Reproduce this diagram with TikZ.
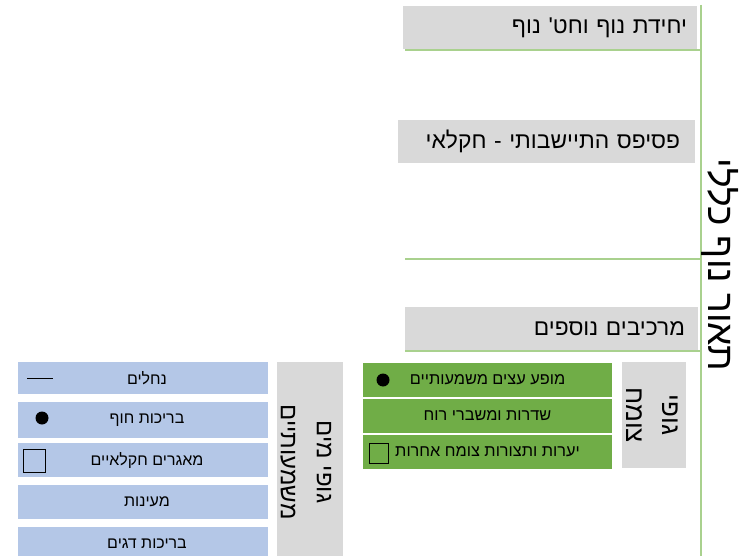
\documentclass[tikz,border=0pt]{standalone}
\usepackage{fontspec}
\setmainfont{Liberation Sans}
\newfontfamily\heb[Script=Hebrew]{Liberation Sans}
\TeXXeTstate=1
\definecolor{boxgray}{HTML}{D9D9D9}
\definecolor{linegreen}{HTML}{A9D18E}
\definecolor{rowgreen}{HTML}{70AD47}
\definecolor{rowblue}{HTML}{B4C7E7}
\begin{document}
\begin{tikzpicture}[x=1pt,y=-1pt,
  graybox/.style={fill=boxgray,draw=none,inner ysep=0pt,minimum height=43pt,align=right,font=\heb\fontsize{22.8}{26}\selectfont},
  greenrow/.style={fill=rowgreen,draw=white,line width=1.2pt,minimum width=251pt,minimum height=36pt,inner sep=0pt,font=\heb\fontsize{16.3}{19}\selectfont},
  bluerow/.style={fill=rowblue,draw=none,minimum width=250pt,inner sep=0pt,font=\heb\fontsize{16}{19}\selectfont},
  grouplabel/.style={fill=boxgray,draw=none,inner sep=0pt,align=center},
  grouptext/.style={rotate=-90,align=center,inner sep=0pt,font=\heb\fontsize{26}{36}\selectfont},
  grline/.style={draw=linegreen,line width=2.5pt},
  dotmark/.style={circle,fill=black,inner sep=0pt,minimum size=13pt},
  sqmark/.style={rectangle,draw=black,line width=1pt,fill=none,inner sep=0pt,minimum width=19pt,minimum height=20pt}
]
\useasboundingbox (0,0) rectangle (754,556);
\fill[white] (0,0) rectangle (754,556);
% main vertical line
\coordinate (vtop) at (701,5);
\coordinate (vbot) at (701,556);
\draw[grline] (vtop) -- (vbot);
% top gray boxes
\node[graybox,minimum width=294pt,text width=274pt,inner xsep=10pt] (unit) at (550,27.5) {\beginR יחידת נוף וחט' נוף\endR};
\coordinate (unitL) at (405,50);
\coordinate (unitR) at (701,50);
\draw[grline] (unitL) -- (unitR);
\node[graybox,minimum width=297pt,text width=267pt,inner xsep=15pt] (mosaic) at (546.5,141.5) {\beginR פסיפס התיישבותי - חקלאי\endR};
\coordinate (midL) at (405,259);
\coordinate (midR) at (701,259);
\draw[grline] (midL) -- (midR);
\node[graybox,minimum width=293pt,text width=267pt,inner xsep=13pt] (extra) at (551.5,328.5) {\beginR מרכיבים נוספים\endR};
\coordinate (extraL) at (405,351);
\coordinate (extraR) at (701,351);
\draw[grline] (extraL) -- (extraR);
% title
\node[rotate=-90,font=\heb\fontsize{37}{40}\selectfont,inner sep=0pt] (title) at (720,265) {\beginR תאור נוף כללי\endR};
% vegetation group
\node[grouplabel,minimum width=64pt,minimum height=106pt] (veg) at (654,415) {};
\node[grouptext] (vegtxt) at (652,415) {\beginR גופי\endR\\\beginR צומח\endR};
\node[greenrow] (g1) at (487.5,380) {\beginR מופע עצים משמעותיים\endR};
\node[greenrow] (g2) at (487.5,416) {\beginR שדרות ומשברי רוח\endR};
\node[greenrow] (g3) at (487.5,452) {\beginR יערות ותצורות צומח אחרות\endR};
\node[dotmark] (g1dot) at (383,380) {};
\node[sqmark] (g3sq) at (378.5,453) {};
% water group
\node[grouplabel,minimum width=66pt,minimum height=196pt] (water) at (310,460) {};
\node[grouptext,font=\heb\fontsize{24}{36}\selectfont] (watertxt) at (306,462) {\beginR גופי מים\endR\\\beginR משמעותיים\endR};
\node[bluerow,minimum height=32pt] (b1) at (143,378) {\hspace*{8pt}\beginR נחלים\endR};
\node[bluerow,minimum height=36pt] (b2) at (143,420) {\hspace*{8pt}\beginR בריכות חוף\endR};
\node[bluerow,minimum height=34pt] (b3) at (143,460) {\hspace*{8pt}\beginR מאגרים חקלאיים\endR};
\node[bluerow,minimum height=34pt] (b4) at (143,502) {\hspace*{8pt}\beginR מעינות\endR};
\node[bluerow,minimum height=34pt] (b5) at (143,544) {\hspace*{8pt}\beginR בריכות דגים\endR};
\coordinate (streamA) at (27,378);
\coordinate (streamB) at (53,378);
\draw[black,line width=0.8pt] (streamA) -- (streamB);
\node[dotmark] (b2dot) at (42,418) {};
\node[sqmark,minimum width=22pt,minimum height=23pt] (b3sq) at (34,460.5) {};
\end{tikzpicture}
\end{document}
